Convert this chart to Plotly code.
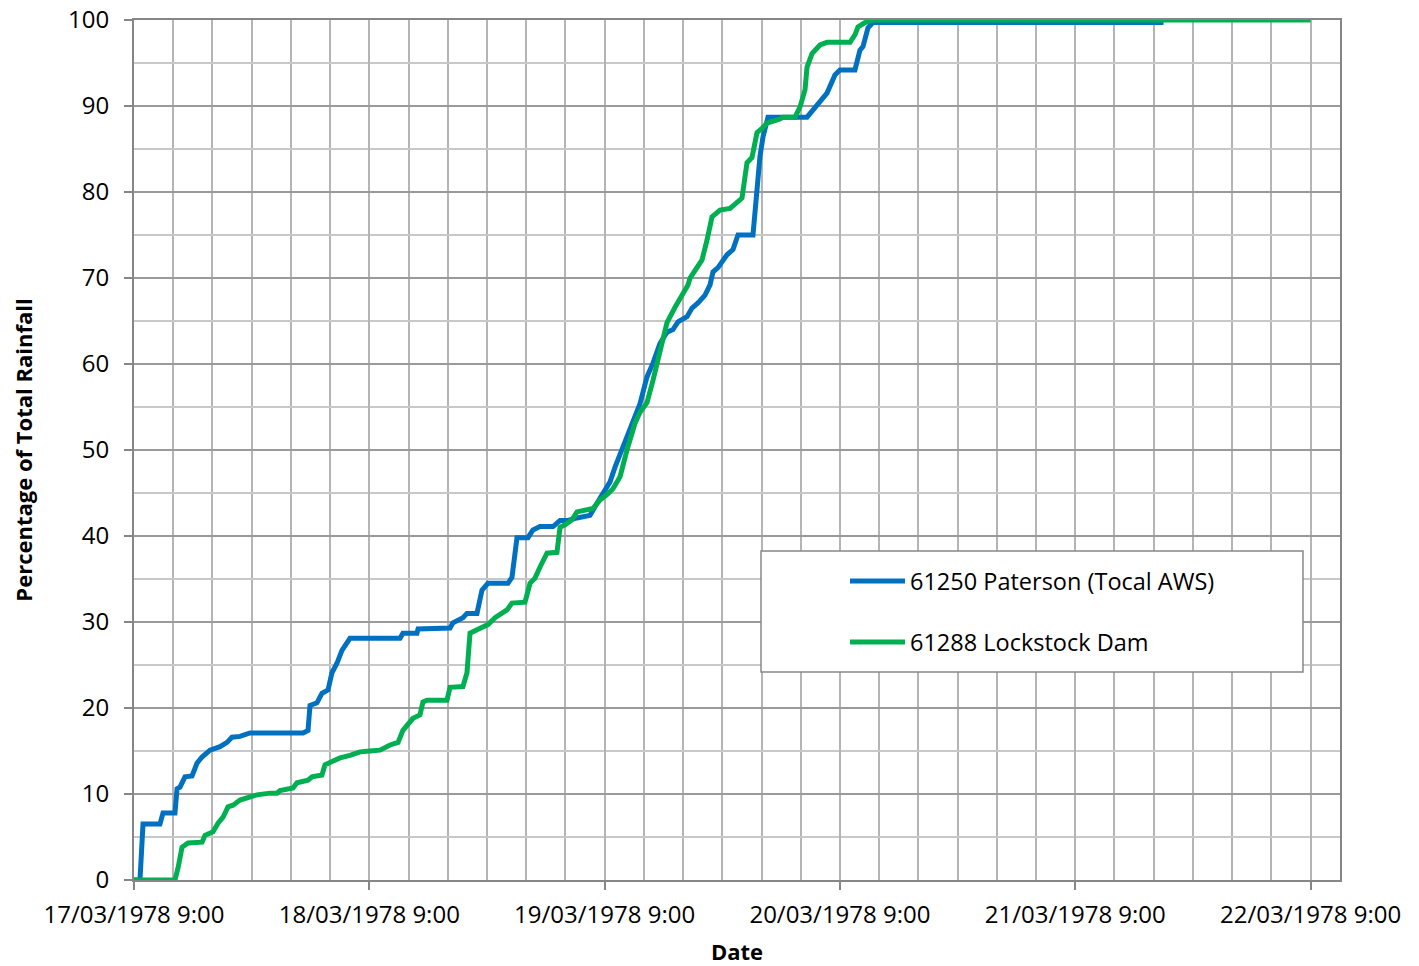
import pandas as pd
import plotly.graph_objects as go

# hours after 17/03/1978 9:00, and cumulative % of event rainfall
paterson_hours = [0, 0.61, 0.92, 2.65, 2.96, 4.18, 4.39, 4.69, 5.20, 5.92,
                  6.43, 6.94, 7.75, 8.77, 9.49, 9.99, 10.81, 11.83, 17.24, 17.75,
                  17.95, 18.66, 19.17, 19.79, 20.19, 20.70, 21.21, 21.52, 22.03, 27.13,
                  27.43, 28.86, 28.97, 32.23, 32.53, 33.55, 33.96, 34.98, 35.49, 36.10,
                  38.14, 38.55, 39.06, 40.18, 40.69, 41.41, 42.73, 43.45, 44.26, 45.18,
                  46.51, 47.22, 47.94, 48.55, 49.06, 49.87, 50.59, 51.10, 51.61, 52.32,
                  52.93, 53.65, 54.36, 54.97, 55.48, 56.40, 56.91, 57.52, 58.24, 58.75,
                  59.05, 59.56, 60.48, 61.09, 61.60, 63.13, 63.54, 63.84, 64.15, 64.66,
                  68.64, 69.76, 70.68, 71.49, 72.00, 73.53, 74.04, 74.35, 74.86, 75.37,
                  105]
paterson_pct = [0, 0, 6.5, 6.5, 7.8, 7.8, 10.6, 10.8, 12.0, 12.1,
                13.6, 14.3, 15.1, 15.5, 16.0, 16.6, 16.7, 17.1, 17.1, 17.4,
                20.3, 20.6, 21.7, 22.1, 24.1, 25.2, 26.7, 27.3, 28.1, 28.1,
                28.7, 28.7, 29.2, 29.3, 29.9, 30.5, 31.0, 31.0, 33.7, 34.5,
                34.5, 35.2, 39.8, 39.8, 40.7, 41.1, 41.1, 41.8, 41.8, 42.1,
                42.4, 43.8, 45.2, 46.3, 48.0, 50.3, 52.3, 53.8, 55.4, 58.5,
                60.1, 62.4, 63.7, 64.0, 64.9, 65.5, 66.5, 67.1, 68.0, 69.2,
                70.7, 71.2, 72.7, 73.3, 75.0, 75.0, 80.6, 84.1, 86.4, 88.7,
                88.7, 90.3, 91.5, 93.6, 94.2, 94.2, 96.5, 96.9, 99.1, 99.7,
                99.7]

lockstock_hours = [0, 4.18, 4.49, 4.90, 5.51, 6.94, 7.24, 8.06, 8.57, 9.08,
                   9.59, 10.10, 10.81, 11.52, 12.54, 13.87, 14.58, 14.89, 16.22, 16.62,
                   17.75, 18.15, 19.17, 19.48, 19.99, 21.01, 22.03, 23.05, 24.07, 25.09,
                   26.11, 26.93, 27.43, 28.45, 29.17, 29.47, 29.88, 31.92, 32.23, 33.55,
                   33.96, 34.27, 34.98, 36.10, 36.82, 38.04, 38.55, 39.88, 40.39, 40.90,
                   41.41, 42.12, 43.14, 43.45, 43.96, 44.67, 45.18, 46.20, 46.81, 47.53,
                   48.24, 48.85, 49.57, 50.28, 51.10, 51.61, 52.32, 52.93, 53.65, 54.36,
                   55.18, 55.99, 56.50, 56.71, 57.22, 57.93, 58.44, 58.95, 59.77, 60.79,
                   62.01, 62.52, 63.03, 63.54, 64.05, 64.56, 65.89, 66.19, 67.42, 67.93,
                   68.44, 68.64, 69.15, 69.97, 70.68, 73.03, 73.54, 73.84, 74.56, 75.37,
                   120]
lockstock_pct = [0, 0, 1.4, 3.8, 4.3, 4.4, 5.2, 5.6, 6.6, 7.3,
                 8.5, 8.7, 9.3, 9.6, 9.9, 10.1, 10.1, 10.4, 10.7, 11.3,
                 11.6, 12.0, 12.2, 13.4, 13.7, 14.2, 14.5, 14.9, 15.0, 15.1,
                 15.7, 16.0, 17.4, 18.8, 19.2, 20.7, 20.9, 20.9, 22.4, 22.5,
                 24.1, 28.7, 29.1, 29.7, 30.5, 31.4, 32.2, 32.3, 34.5, 35.1,
                 36.4, 38.0, 38.1, 41.0, 41.3, 41.9, 42.8, 43.0, 43.2, 44.2,
                 44.8, 45.5, 46.9, 50.0, 53.1, 54.4, 55.5, 58.1, 61.3, 64.8,
                 66.6, 68.3, 69.2, 70.0, 70.9, 72.1, 74.4, 77.1, 77.9, 78.1,
                 79.3, 83.4, 84.0, 86.9, 87.4, 88.0, 88.5, 88.7, 88.7, 89.9,
                 91.9, 94.5, 96.1, 97.1, 97.4, 97.4, 98.3, 99.2, 99.7, 100,
                 100]

series_names = ["61250 Paterson (Tocal AWS)", "61288 Lockstock Dam"]
series_colors = ["#0070C0", "#00B050"]

start = pd.Timestamp("1978-03-17 09:00")
paterson_time = start + pd.to_timedelta(paterson_hours, unit="h")
lockstock_time = start + pd.to_timedelta(lockstock_hours, unit="h")

FONT = "Open Sans"

fig = go.Figure()

fig.add_trace(go.Scatter(x=paterson_time, y=paterson_pct, mode="lines",
                         name=series_names[0], showlegend=False,
                         line=dict(color=series_colors[0], width=5)))
fig.add_trace(go.Scatter(x=lockstock_time, y=lockstock_pct, mode="lines",
                         name=series_names[1], showlegend=False,
                         line=dict(color=series_colors[1], width=5)))

# legend box drawn like the Excel one (entries centred in a wide box)
fig.add_shape(type="rect", xref="paper", yref="paper",
              x0=0.5199, x1=0.9693, y0=0.2419, y1=0.3826,
              line=dict(color="#888888", width=1.5), fillcolor="white", layer="above")
legend_rows = [0.3477, 0.2767]
for name, color, yy in zip(series_names, series_colors, legend_rows):
    fig.add_shape(type="line", xref="paper", yref="paper",
                  x0=0.5937, x1=0.6393, y0=yy, y1=yy,
                  line=dict(color=color, width=5), layer="above")
    fig.add_annotation(x=0.6418, y=yy, xref="paper", yref="paper",
                       text=name, showarrow=False, xanchor="left", yanchor="middle",
                       font=dict(family=FONT, size=23.5, color="black"))

# page body has an 8px margin, so the figure is a bit smaller than the window
fig.update_layout(
    width=1411,
    height=958,
    margin=dict(l=126, r=79, t=12, b=86),
    plot_bgcolor="white",
    paper_bgcolor="white",
    font=dict(family=FONT, size=24, color="black"),
    xaxis=dict(
        type="date",
        range=[start, start + pd.Timedelta(hours=123)],
        tick0=start,
        dtick=86400000,
        tickformat="%d/%m/%Y %-H:%M",
        ticks="outside",
        ticklen=8,
        tickwidth=2,
        tickcolor="#868686",
        ticklabelstandoff=4,
        ticklabeloverflow="allow",
        showline=True,
        linecolor="#868686",
        linewidth=2,
        mirror=True,
        showgrid=True,
        gridcolor="#b4b4b4",
        gridwidth=2,
        minor=dict(dtick=4 * 3600000, tick0=start, showgrid=True,
                   gridcolor="#b4b4b4", gridwidth=2),
        title=dict(text="<b>Date</b>", font=dict(family=FONT, size=22), standoff=21),
        tickfont=dict(family=FONT, size=24),
        automargin=False,
        zeroline=False,
    ),
    yaxis=dict(
        range=[0, 100],
        dtick=10,
        ticks="outside",
        ticklen=8,
        tickwidth=2,
        tickcolor="#868686",
        ticklabelstandoff=10,
        ticklabeloverflow="allow",
        showline=True,
        linecolor="#868686",
        linewidth=2,
        mirror=True,
        showgrid=True,
        gridcolor="#9a9a9a",
        gridwidth=2,
        minor=dict(dtick=5, showgrid=True, gridcolor="#c8c8c8", gridwidth=2),
        title=dict(text="<b>Percentage of Total Rainfall</b>",
                   font=dict(family=FONT, size=22), standoff=46),
        tickfont=dict(family=FONT, size=24),
        automargin=False,
        zeroline=False,
    ),
)

fig.write_html("out.html")
